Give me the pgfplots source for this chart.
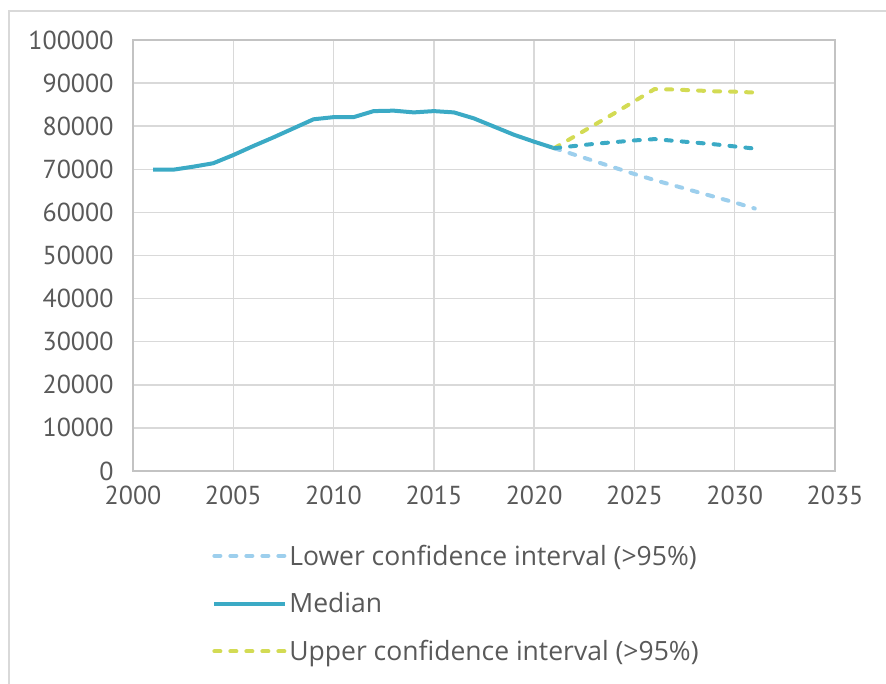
\documentclass[border=0pt]{standalone}
\usepackage{fontspec}
\setmainfont{PT Sans}
\newfontfamily\legfont{Open Sans}
\usepackage{pgfplots}
\pgfplotsset{compat=1.18}
\definecolor{med}{RGB}{59,170,197}
\definecolor{low}{RGB}{157,207,237}
\definecolor{upp}{RGB}{211,219,84}
\definecolor{txt}{RGB}{89,89,89}
\definecolor{grd}{RGB}{217,217,217}
\newcommand{\ls}{\rule[-6bp]{0pt}{25bp}}
\begin{document}
\begin{tikzpicture}[x=1bp,y=1bp]
\useasboundingbox (0,0) rectangle (886,684);
\draw[grd, line width=2bp] (9,-20) -- (9,673) -- (900,673);
\begin{axis}[
  at={(133bp,213bp)}, anchor=south west,
  width=702bp, height=431bp, scale only axis,
  xmin=2000, xmax=2035, ymin=0, ymax=100000,
  xtick={2000,2005,2010,2015,2020,2025,2030,2035},
  xticklabels={2000,2005,2010,2015,2020,2025,2030,2035},
  ytick={0,10000,20000,30000,40000,50000,60000,70000,80000,90000,100000},
  yticklabels={0,10000,20000,30000,40000,50000,60000,70000,80000,90000,100000},
  grid=major, major grid style={grd, line width=1.5bp},
  axis line style={draw=grd!90!black, line width=1.5bp},
  major tick length=0pt,
  scaled ticks=false,
  tick label style={font=\fontsize{26bp}{30bp}\selectfont, text=txt},
  yticklabel style={xshift=-16bp},
  xticklabel style={yshift=-11bp},
  legend style={at={(0.1085,-0.162)}, anchor=north west, draw=none, fill=none,
    font=\legfont\fontsize{26.5bp}{30bp}\selectfont, text=txt, row sep=22bp},
  legend cell align=left,
  legend image code/.code={\draw[#1] (0bp,0bp) -- (71bp,0bp);},
]
\addplot[low, line width=4bp, line cap=round, dash pattern=on 6bp off 10bp] coordinates {
(2021,74900) (2022,73400) (2023,71900) (2024,70400) (2025,68900) (2026,67500)
(2027,66200) (2028,64900) (2029,63600) (2030,62300) (2031,60900)};
\addlegendentry{\ls Lower confidence interval (>95\%)}
\addplot[med, line width=4bp, line join=round] coordinates {
(2001,69900) (2002,69900) (2003,70600) (2004,71400) (2005,73300) (2006,75400)
(2007,77400) (2008,79500) (2009,81600) (2010,82100) (2011,82100) (2012,83500)
(2013,83600) (2014,83200) (2015,83500) (2016,83200) (2017,81800) (2018,79900)
(2019,78000) (2020,76400) (2021,74900)};
\addlegendentry{\ls Median}
\addplot[upp, line width=4bp, line cap=round, dash pattern=on 6bp off 10bp] coordinates {
(2021,74900) (2022,77600) (2023,80300) (2024,83000) (2025,85800) (2026,88600)
(2027,88500) (2028,88300) (2029,88100) (2030,88000) (2031,87800)};
\addlegendentry{\ls Upper confidence interval (>95\%)}
\addplot[med, line width=4bp, line cap=round, dash pattern=on 6bp off 10bp, forget plot] coordinates {
(2021,74900) (2022,75400) (2023,75900) (2024,76300) (2025,76700) (2026,77000)
(2027,76600) (2028,76200) (2029,75800) (2030,75300) (2031,74800)};
\end{axis}
\end{tikzpicture}
\end{document}
